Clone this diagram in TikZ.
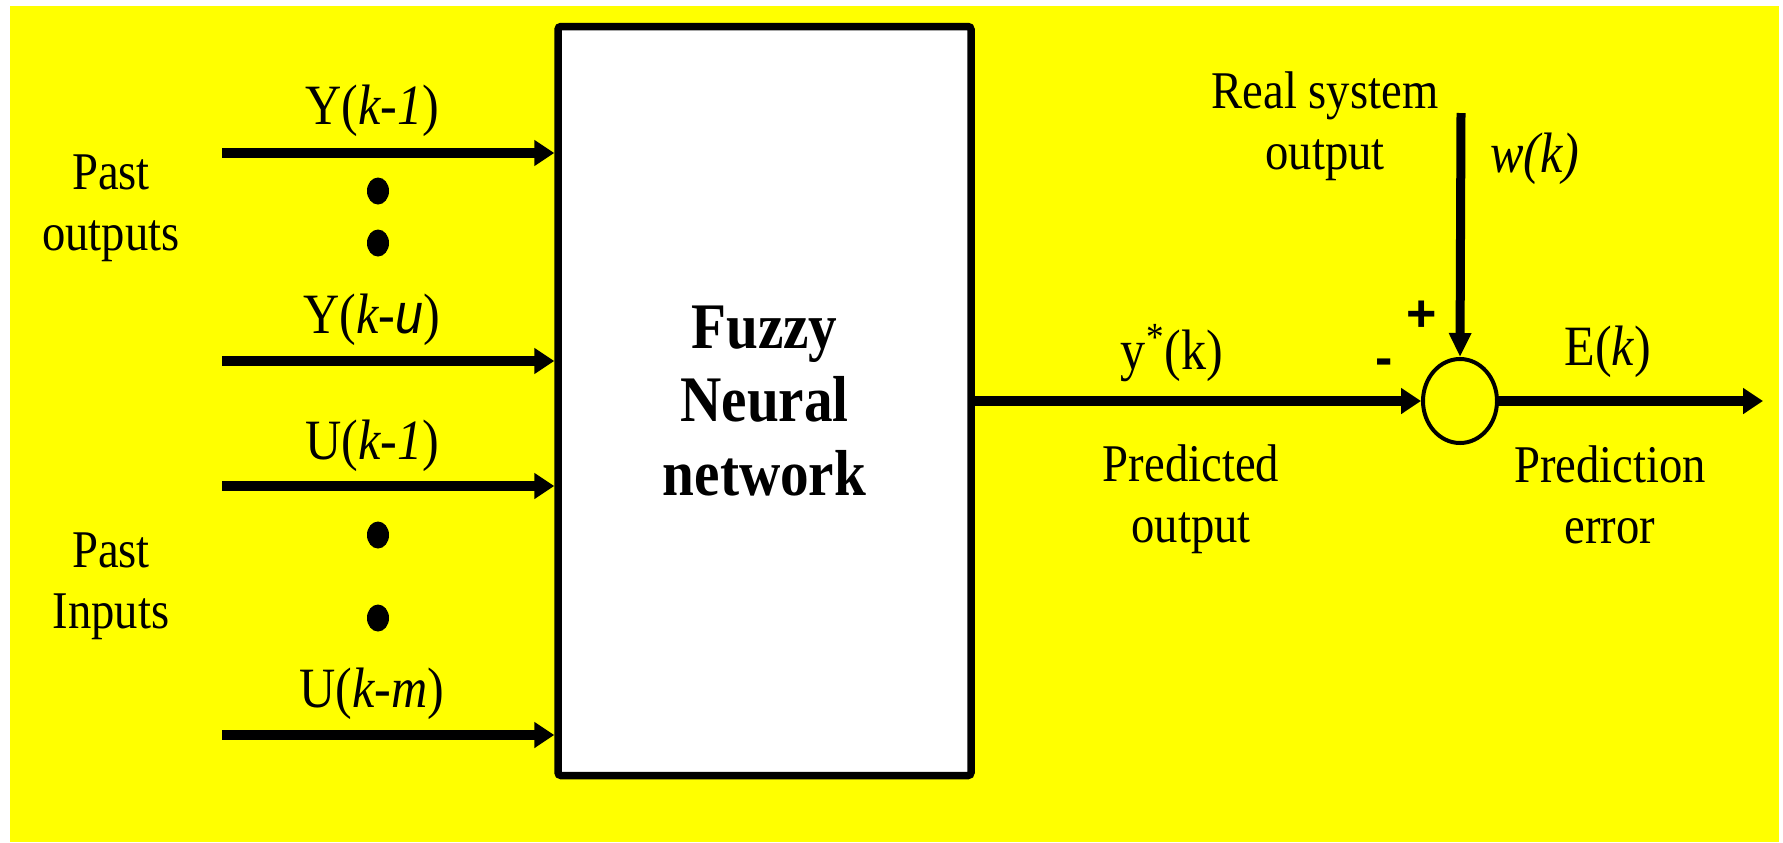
\documentclass[tikz,border=0pt]{standalone}
\usepackage{fontspec}
\setmainfont{Liberation Serif}[FakeStretch=0.88]
\newfontfamily\sansfs{Liberation Sans}[FakeStretch=0.88]
\newfontfamily\sansb{Liberation Sans}
\usetikzlibrary{arrows.meta,shapes.geometric}
\definecolor{yel}{RGB}{255,255,0}
\begin{document}
\begin{tikzpicture}[x=0.5pt,y=-0.5pt,
  arr/.style={line width=4.75pt,-{Triangle[length=10pt,width=12.5pt]}},
  varr/.style={line width=4.5pt,-{Triangle[length=12pt,width=10.5pt]}},
  lab/.style={anchor=base,inner sep=0pt,font=\fontsize{28.5}{30}\selectfont},
  txt/.style={anchor=base,inner sep=0pt,align=center,font=\fontsize{26.5}{30.5}\selectfont},
  sign/.style={inner sep=0pt,font=\sansb\bfseries\fontsize{26}{26}\selectfont},
  fnnbox/.style={draw,fill=white,line width=3.75pt,rounded corners=1.5pt,
    minimum width=206.5pt,minimum height=374.5pt,inner sep=0pt,align=center,
    font=\bfseries\fontsize{32.5}{36.75}\selectfont},
  sumj/.style={draw,ellipse,line width=2pt,minimum width=37pt,minimum height=42pt,inner sep=0pt},
  dotn/.style={fill=black,ellipse,minimum width=11pt,minimum height=13.5pt,inner sep=0pt}
]
\useasboundingbox (0,0) rectangle (1783,842);
\fill[white] (0,0) rectangle (1783,842);
\fill[yel] (10,6) rectangle (1779,842);

% main blocks
\node[fnnbox] (fnn) at (764.5,401) {Fuzzy\\Neural\\network};
\node[sumj] (sum) at (1460,401) {};

% input arrows
\coordinate (i1) at (222,153);
\coordinate (i2) at (222,361);
\coordinate (i3) at (222,486);
\coordinate (i4) at (222,735);
\draw[arr] (i1) -- (i1 -| fnn.west);
\draw[arr] (i2) -- (i2 -| fnn.west);
\draw[arr] (i3) -- (i3 -| fnn.west);
\draw[arr] (i4) -- (i4 -| fnn.west);

\node[lab] (l1) at (372,124) {Y(\textit{k-1})};
\node[lab] (l2) at (372,333) {Y(\textit{k-}{\sansfs\itshape u})};
\node[lab] (l3) at (372,459) {U(\textit{k-1})};
\node[lab] (l4) at (372,707) {U(\textit{k-m})};

\node[dotn] (d1) at (378,191) {};
\node[dotn] (d2) at (378,243) {};
\node[dotn] (d3) at (378,535) {};
\node[dotn] (d4) at (378,618) {};

\node[txt] (po) at (111,250) {Past\\outputs};
\node[txt] (pi) at (111,628) {Past\\Inputs};

% output side
\draw[arr] (fnn.east |- sum) -- (sum.west);
\coordinate (wtop) at (1461,113);
\draw[varr] (wtop) -- (sum.north);
\coordinate (eout) at (1763,401);
\draw[arr] (sum.east) -- (eout);

\node[txt] (rso) at (1325,169) {Real system\\output};
\node[lab] (wk) at (1535,172) {\textit{w(k)}};
\node[lab] (ys) at (1172,369) {y\textsuperscript{*}(k)};
\node[txt] (pdo) at (1191,542) {Predicted\\output};
\node[lab] (ek) at (1608,365) {E(\textit{k})};
\node[txt] (pde) at (1610,543) {Prediction\\error};
\node[sign] (plus) at (1422,316) {+};
\node[sign] (minus) at (1384,367) {-};
\end{tikzpicture}
\end{document}
